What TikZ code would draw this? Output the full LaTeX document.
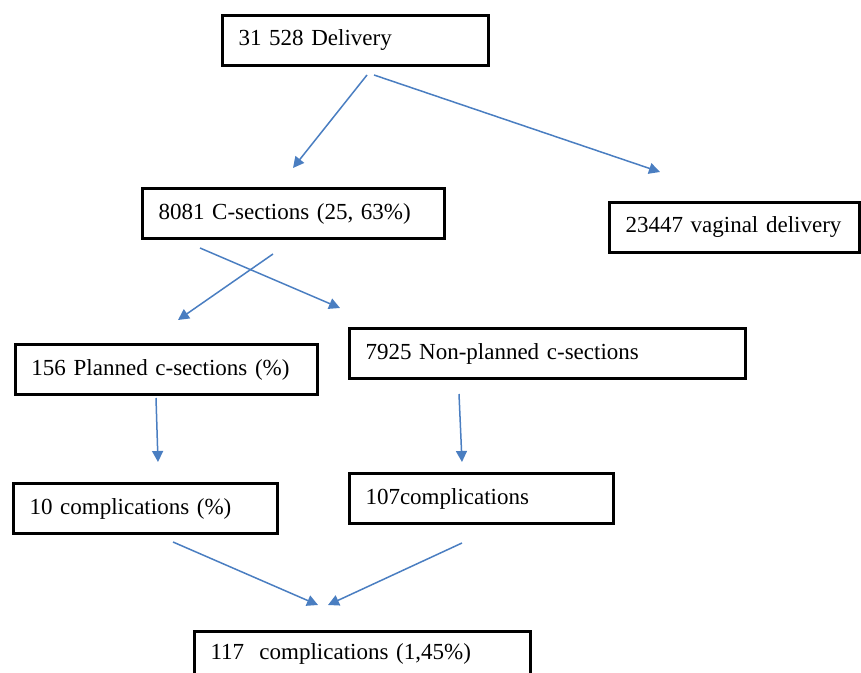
\documentclass[tikz,border=0pt]{standalone}
\usepackage{fontspec}
\setmainfont{Liberation Serif}
\usepackage{tikz}
\usetikzlibrary{arrows.meta,positioning}
\definecolor{ARRblue}{RGB}{74,126,193}

\begin{document}
\begin{tikzpicture}[x=0.5pt, y=-0.5pt, every node/.style={font=\fontsize{11.5}{13}\selectfont}, bx/.style={draw=black,line width=1.5pt,anchor=north west,align=left,inner xsep=8pt,minimum height=25pt,text width=#1}, arr/.style={-{Triangle[length=5.5pt,width=5.5pt]},line width=0.75pt,ARRblue}]
\clip (0,0) rectangle (861,673);
\useasboundingbox (0,0) rectangle (861,673);
\node[bx=117pt] (deliv) at (221,14) {31 528 Delivery};
\node[bx=135pt] (csec) at (141,187) {8081 C-sections (25, 63\%)};
\node[bx=109pt] (vag) at (608,201) {23447 vaginal delivery};
\node[bx=135pt] (plan) at (14,343) {156 Planned c-sections (\%)};
\node[bx=182pt] (nonplan) at (348,327) {7925 Non-planned c-sections};
\node[bx=116pt] (comp10) at (12,482) {10 complications (\%)};
\node[bx=116pt] (comp107) at (348,472) {107complications};
\node[bx=152pt,minimum height=22pt] (comp117) at (193,630) {117~ complications (1,45\%)};
% free arrow ends
\coordinate (d1) at (367,75); \coordinate (d2) at (374,75);
\coordinate (cs1) at (293,168); \coordinate (vg1) at (660,172);
\coordinate (c1) at (273,254); \coordinate (c2) at (200,248);
\coordinate (pl1) at (178,320); \coordinate (np1) at (340,308);
\coordinate (p1) at (156,398); \coordinate (n1) at (459,394);
\coordinate (k10) at (158,462); \coordinate (k107) at (462,462);
\coordinate (t1) at (173,542); \coordinate (t2) at (462,543);
\coordinate (s1) at (318,605); \coordinate (s2) at (328,605);
\draw[arr] (d1)--(cs1);
\draw[arr] (d2)--(vg1);
\draw[arr] (c1)--(pl1);
\draw[arr] (c2)--(np1);
\draw[arr] (p1)--(k10);
\draw[arr] (n1)--(k107);
\draw[arr] (t1)--(s1);
\draw[arr] (t2)--(s2);
\end{tikzpicture}
\end{document}
